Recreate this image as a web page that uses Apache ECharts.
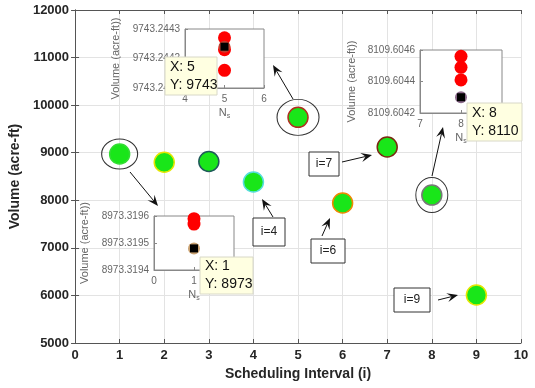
<!DOCTYPE html>
<html>
<head>
<meta charset="utf-8">
<script src="https://cdn.jsdelivr.net/npm/echarts@6/dist/echarts.min.js"></script>
<style>
  html, body { margin: 0; padding: 0; background: #fff; }
  #chart { width: 535px; height: 388px; }
</style>
</head>
<body>
<div id="chart"></div>
<script>
// main series
const intervals = [1, 2, 3, 4, 5, 6, 7, 8, 9];
const volumes = [8973, 8800, 8815, 8384, 9743, 7943, 9120, 8110, 6009];
const circled = [1, 5, 8];

// zoomed views (N_s on x)
const insetAX = 5;
const insetARed = [9743.24427, 9743.24423, 9743.24416];
const insetABest = 9743.24424;
const insetBX = 8;
const insetBRed = [8109.60456, 8109.60449, 8109.60441];
const insetBBest = 8109.6043;
const insetCX = 1;
const insetCRed = [8973.31959, 8973.31957];
const insetCBest = 8973.31948;

const edgeColors = ["#33dd33", "#e6e600", "#1f5a5a", "#55dddd", "#b03020", "#ee8800", "#7a2a10", "#777777", "#e6e600"];
const ringSizes = [[36, 30], [42, 36], [32, 35]];

const font = "Liberation Sans, Arial, sans-serif";
const myChart = echarts.init(document.getElementById("chart"));

function arrow(x1, y1, x2, y2) {
  let a = Math.atan2(y2 - y1, x2 - x1);
  let c = Math.cos(a), s = Math.sin(a);
  let L = 11, W = 4.5;
  let bx = x2 - L * c, by = y2 - L * s;
  let ix = x2 - L * 0.6 * c, iy = y2 - L * 0.6 * s;
  return [
    { type: "line", z: 10, shape: { x1: x1, y1: y1, x2: ix, y2: iy }, style: { stroke: "#111", lineWidth: 1 } },
    {
      type: "polygon", z: 10,
      shape: { points: [[x2, y2], [bx - W * s, by + W * c], [ix, iy], [bx + W * s, by - W * c]] },
      style: { fill: "#111" }
    }
  ];
}

function labelBox(x, y, w, h, text) {
  return [
    { type: "rect", z: 10, shape: { x: x, y: y, width: w, height: h }, style: { fill: "#fff", stroke: "#333", lineWidth: 1 } },
    { type: "text", z: 11, x: x + w / 2, y: y + h / 2, style: { text: text, font: "12px " + font, fill: "#222", align: "center", verticalAlign: "middle" } }
  ];
}

function dataTip(x, y, w, h, xv, yv) {
  return [
    { type: "rect", z: 20, shape: { x: x, y: y, width: w, height: h }, style: { fill: "#ffffe1", stroke: "#d8d8c8", lineWidth: 1 } },
    { type: "text", z: 21, x: x + 5, y: y + h / 2 - 9, style: { text: "X: " + xv, font: "14px " + font, fill: "#111", verticalAlign: "middle" } },
    { type: "text", z: 21, x: x + 5, y: y + h / 2 + 9, style: { text: "Y: " + yv, font: "14px " + font, fill: "#111", verticalAlign: "middle" } }
  ];
}

function insetX(gridIndex, min, max) {
  return {
    gridIndex: gridIndex, type: "value", min: min, max: max, interval: 1, z: 3,
    name: "{n|N}{s|s}", nameLocation: "middle", nameGap: 17,
    nameTextStyle: { rich: { n: { fontSize: 11, color: "#666", fontFamily: font }, s: { fontSize: 7, color: "#666", verticalAlign: "bottom", padding: [8, 0, 0, 0] } } },
    axisLine: { show: true, lineStyle: { color: "#888" } },
    axisTick: { inside: true, length: 3, lineStyle: { color: "#888" } },
    axisLabel: { fontSize: 10, color: "#666", fontFamily: font, margin: 6 },
    splitLine: { show: false }
  };
}

function insetY(gridIndex, min, max, interval, gap) {
  return {
    gridIndex: gridIndex, type: "value", min: min, max: max, interval: interval, z: 3,
    name: "Volume (acre-ft))", nameLocation: "middle", nameRotate: 90, nameGap: gap,
    nameTextStyle: { fontSize: 11, color: "#666", fontFamily: font },
    axisLine: { show: true, lineStyle: { color: "#888" } },
    axisTick: { inside: true, length: 3, lineStyle: { color: "#888" } },
    axisLabel: { fontSize: 10, color: "#666", fontFamily: font, margin: 5, formatter: v => v.toFixed(4) },
    splitLine: { show: false }
  };
}

function insetSeries(idx, x, reds, best, ring) {
  return [
    {
      type: "scatter", xAxisIndex: idx, yAxisIndex: idx, z: 4, symbol: "circle", symbolSize: 13,
      itemStyle: { color: "#ff0000", opacity: 1 }, data: reds.map(v => [x, v])
    },
    {
      type: "scatter", xAxisIndex: idx, yAxisIndex: idx, z: 5, symbol: "circle", symbolSize: 12,
      itemStyle: { color: ring, opacity: 1 }, data: [[x, best]]
    },
    {
      type: "scatter", xAxisIndex: idx, yAxisIndex: idx, z: 6, symbol: "rect", symbolSize: 8,
      itemStyle: { color: "#000", opacity: 1 }, data: [[x, best]]
    }
  ];
}

let axisText = { color: "#262626", fontFamily: font, fontWeight: "bold", fontSize: 13 };

let option = {
  animation: false,
  grid: [
    { left: 75, right: 14, top: 10, bottom: 45, show: false },
    { left: 185, top: 29, width: 79, height: 59, show: true, backgroundColor: "#fff", borderColor: "#888", z: 1 },
    { left: 420, top: 50, width: 82, height: 63, show: true, backgroundColor: "#fff", borderColor: "#888", z: 1 },
    { left: 154, top: 216, width: 80, height: 54, show: true, backgroundColor: "#fff", borderColor: "#888", z: 1 }
  ],
  xAxis: [
    {
      gridIndex: 0, type: "value", min: 0, max: 10, interval: 1,
      name: "Scheduling Interval (i)", nameLocation: "middle", nameGap: 22,
      nameTextStyle: { color: "#262626", fontFamily: font, fontWeight: "bold", fontSize: 14 },
      axisLine: { lineStyle: { color: "#555" } },
      axisTick: { inside: true, length: 4, lineStyle: { color: "#555" } },
      axisLabel: Object.assign({ margin: 6 }, axisText),
      splitLine: { show: true, lineStyle: { color: "#e3e3e3" } }
    },
    {
      gridIndex: 0, type: "value", min: 0, max: 10, interval: 1, position: "top",
      axisLine: { lineStyle: { color: "#555" } },
      axisTick: { inside: true, length: 4, lineStyle: { color: "#555" } },
      axisLabel: { show: false }, splitLine: { show: false }
    },
    insetX(1, 4, 6),
    insetX(2, 7, 9),
    insetX(3, 0, 2)
  ],
  yAxis: [
    {
      gridIndex: 0, type: "value", min: 5000, max: 12000, interval: 1000,
      name: "Volume (acre-ft)", nameLocation: "middle", nameGap: 52,
      nameTextStyle: { color: "#262626", fontFamily: font, fontWeight: "bold", fontSize: 14 },
      axisLine: { show: true, lineStyle: { color: "#555" } },
      axisTick: { show: true, inside: true, length: 4, lineStyle: { color: "#555" } },
      axisLabel: Object.assign({ margin: 6, formatter: v => String(v) }, axisText),
      splitLine: { show: true, lineStyle: { color: "#e3e3e3" } }
    },
    {
      gridIndex: 0, type: "value", min: 5000, max: 12000, interval: 1000, position: "right",
      axisLine: { show: true, lineStyle: { color: "#555" } },
      axisTick: { show: true, inside: true, length: 4, lineStyle: { color: "#555" } },
      axisLabel: { show: false }, splitLine: { show: false }
    },
    insetY(1, 9743.2441, 9743.2443, 0.0001, 64),
    insetY(2, 8109.6042, 8109.6046, 0.0002, 63),
    insetY(3, 8973.3194, 8973.3196, 0.0001, 64)
  ],
  series: [
    {
      type: "scatter", xAxisIndex: 0, yAxisIndex: 0, symbol: "circle", symbolSize: 20, z: 2,
      data: intervals.map((x, i) => ({
        value: [x, volumes[i]],
        itemStyle: { color: "#19e619", borderColor: edgeColors[i], borderWidth: 1.5, opacity: 1 }
      }))
    },
    {
      type: "scatter", xAxisIndex: 0, yAxisIndex: 0, symbol: "circle", z: 2,
      itemStyle: { color: "rgba(0,0,0,0)", borderColor: "#333", borderWidth: 1, opacity: 1 },
      data: circled.map((x, k) => ({ value: [x, volumes[x - 1]], symbolSize: ringSizes[k] }))
    }
  ]
    .concat(insetSeries(2, insetAX, insetARed, insetABest, "#c04030"))
    .concat(insetSeries(3, insetBX, insetBRed, insetBBest, "#8a6a8a"))
    .concat(insetSeries(4, insetCX, insetCRed, insetCBest, "#c8a070")),
  graphic: []
    .concat(arrow(130, 172, 158, 206))
    .concat(arrow(293, 99, 273, 65))
    .concat(arrow(432, 176, 443, 127))
    .concat(arrow(273, 217, 262, 199))
    .concat(arrow(322, 236, 330, 218))
    .concat(arrow(342, 162, 372, 155))
    .concat(arrow(438, 300, 458, 295))
    .concat(labelBox(253, 218, 32, 28, "i=4"))
    .concat(labelBox(311, 239, 34, 24, "i=6"))
    .concat(labelBox(309, 152, 30, 24, "i=7"))
    .concat(labelBox(394, 288, 36, 24, "i=9"))
    .concat(dataTip(165, 57, 52, 38, insetAX, Math.round(volumes[4])))
    .concat(dataTip(467, 103, 55, 38, insetBX, Math.round(volumes[7])))
    .concat(dataTip(200, 257, 53, 37, insetCX, Math.round(volumes[0])))
};

myChart.setOption(option);
</script>
</body>
</html>
